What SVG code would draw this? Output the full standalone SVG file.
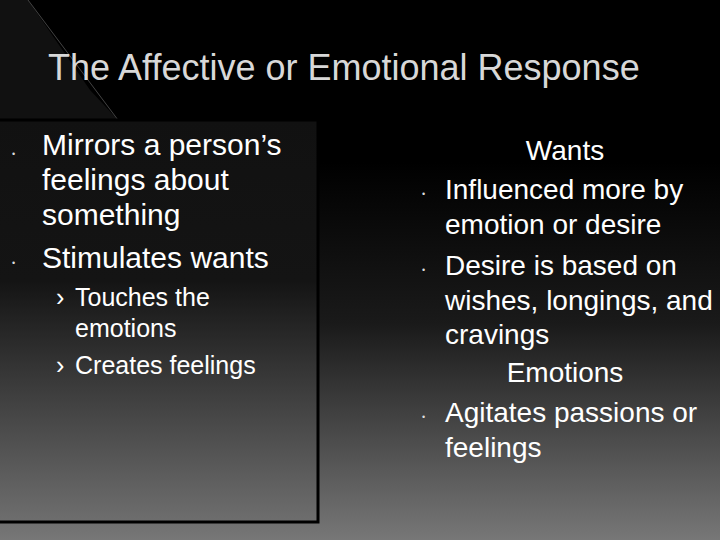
<svg xmlns="http://www.w3.org/2000/svg" width="720" height="540" viewBox="0 0 720 540">
<defs>
<linearGradient id="bg" x1="0" y1="0" x2="0" y2="1">
<stop offset="0" stop-color="#000"/><stop offset="0.3" stop-color="#000"/><stop offset="0.6" stop-color="#1a1a1a"/><stop offset="1" stop-color="#777"/>
</linearGradient>
<linearGradient id="bx" gradientUnits="userSpaceOnUse" x1="0" y1="120" x2="0" y2="522">
<stop offset="0" stop-color="#111"/><stop offset="0.4" stop-color="#141414"/><stop offset="1" stop-color="#6e6e6e"/>
</linearGradient>
<style>
.t{font-family:"Liberation Sans",Arial,sans-serif;fill:#fff;font-size:30px}
.r{font-size:28px}
.s{font-size:25px}
.b{fill:#ddd;font-size:9px}
</style>
</defs>
<rect width="720" height="540" fill="url(#bg)"/>
<polygon points="0,0 28,0 90,90 118,120 0,120" fill="#111"/>
<line x1="28" y1="0" x2="118" y2="120" stroke="#444" stroke-width="1"/>
<g id="title"><text x="48" y="80" font-family="Liberation Sans,Arial,sans-serif" font-size="36" fill="#d8d8d8">The Affective or Emotional Response</text></g>
<g id="left">
<rect x="-2" y="120" width="320" height="402" fill="url(#bx)" stroke="#000" stroke-width="3"/>
<text class="t b" x="12" y="157">•</text>
<text class="t" x="42" y="155">Mirrors a person’s</text>
<text class="t" x="42" y="190">feelings about</text>
<text class="t" x="42" y="225">something</text>
<text class="t b" x="12" y="266">•</text>
<text class="t" x="42" y="268">Stimulates wants</text>
<text class="t s" x="56" y="306">›</text>
<text class="t s" x="75" y="306">Touches the</text>
<text class="t s" x="75" y="337">emotions</text>
<text class="t s" x="56" y="374">›</text>
<text class="t s" x="75" y="374">Creates feelings</text>
</g>
<g id="right">
<text class="t r" x="565" y="160" text-anchor="middle">Wants</text>
<text class="t b" x="422" y="197">•</text>
<text class="t r" x="445" y="199">Influenced more by</text>
<text class="t r" x="445" y="234">emotion or desire</text>
<text class="t b" x="422" y="273">•</text>
<text class="t r" x="445" y="275">Desire is based on</text>
<text class="t r" x="445" y="310">wishes, longings, and</text>
<text class="t r" x="445" y="344">cravings</text>
<text class="t r" x="565" y="382" text-anchor="middle">Emotions</text>
<text class="t b" x="422" y="420">•</text>
<text class="t r" x="445" y="422">Agitates passions or</text>
<text class="t r" x="445" y="457">feelings</text>
</g>
</svg>
